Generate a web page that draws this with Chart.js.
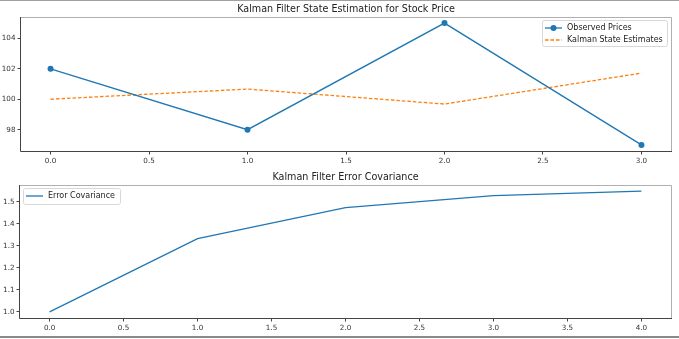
<!DOCTYPE html>
<html>
<head>
<meta charset="utf-8">
<script src="https://cdn.jsdelivr.net/npm/chart.js@4.4.0/dist/chart.umd.min.js"></script>
<style>
  html, body { margin: 0; padding: 0; background: #fff; }
  #wrap { position: relative; width: 679px; height: 339px; background: #fff; overflow: hidden; }
  #frameTop { position: absolute; left: 0; top: 0; width: 679px; height: 1px; background: #a0a0a0; }
  #frameBot { position: absolute; left: 0; top: 336px; width: 679px; height: 2px; background: #8a8a8a; }
  canvas { position: absolute; left: 0; }
  #c1 { top: 0; }
  #c2 { top: 168px; }
</style>
</head>
<body>
<div id="wrap">
  <canvas id="c1" width="679" height="168"></canvas>
  <canvas id="c2" width="679" height="170"></canvas>
  <div id="frameTop"></div>
  <div id="frameBot"></div>
</div>
<script>
// ---- data ----
const timeSteps = [0, 1, 2, 3];
const observedPrices = [102, 98, 105, 97];
const kalmanEstimates = [100, 100.667, 99.684, 101.715];
const covSteps = [0, 1, 2, 3, 4];
const errorCovariance = [1.0, 1.3333, 1.4737, 1.5285, 1.5492];

const topXTicks = [0, 0.5, 1.0, 1.5, 2.0, 2.5, 3.0];
const topYTicks = [98, 100, 102, 104];
const botXTicks = [0, 0.5, 1.0, 1.5, 2.0, 2.5, 3.0, 3.5, 4.0];
const botYTicks = [1.0, 1.1, 1.2, 1.3, 1.4, 1.5];

const title1 = 'Kalman Filter State Estimation for Stock Price';
const title2 = 'Kalman Filter Error Covariance';

const BLUE = '#1f77b4';
const ORANGE = '#ff7f0e';
const FONT = "'DejaVu Sans', sans-serif";

function pts(xs, ys) { return xs.map((x, i) => ({ x: x, y: ys[i] })); }

function decorPlugin(title, legendCfg) {
  return {
    id: 'decor',
    afterDraw(chart) {
      const ctx = chart.ctx;
      const a = chart.chartArea;
      ctx.save();
      // spines
      ctx.lineWidth = 1;
      ctx.strokeStyle = '#b0b0b0';
      ctx.beginPath();
      ctx.moveTo(a.left, a.top + 0.5); ctx.lineTo(a.right + 0.5, a.top + 0.5);
      ctx.lineTo(a.right + 0.5, a.bottom);
      ctx.stroke();
      ctx.strokeStyle = '#444';
      ctx.beginPath();
      ctx.moveTo(a.left - 0.5, a.top); ctx.lineTo(a.left - 0.5, a.bottom + 0.5);
      ctx.lineTo(a.right + 1, a.bottom + 0.5);
      ctx.stroke();
      // title
      ctx.fillStyle = '#222';
      ctx.font = "9.6px " + FONT;
      ctx.textAlign = 'center';
      ctx.textBaseline = 'middle';
      ctx.fillText(title, (a.left + a.right) / 2, a.top - 8);
      // legend
      const L = legendCfg;
      const bx = L.side === 'right' ? a.right - 4 - L.w : a.left + 3;
      const by = a.top + 3;
      ctx.fillStyle = 'rgba(255,255,255,0.8)';
      ctx.strokeStyle = '#d8d8d8';
      ctx.lineWidth = 1;
      ctx.beginPath();
      if (ctx.roundRect) ctx.roundRect(bx + 0.5, by + 0.5, L.w, L.h, 2); else ctx.rect(bx + 0.5, by + 0.5, L.w, L.h);
      ctx.fill(); ctx.stroke();
      ctx.font = "8px " + FONT;
      ctx.textAlign = 'left';
      chart.data.datasets.forEach((ds, i) => {
        const cy = by + L.first + i * L.gap;
        ctx.strokeStyle = ds.borderColor;
        ctx.lineWidth = ds.borderWidth;
        ctx.setLineDash(ds.borderDash || []);
        ctx.beginPath();
        ctx.moveTo(bx + 3, cy); ctx.lineTo(bx + 20, cy);
        ctx.stroke();
        ctx.setLineDash([]);
        if (ds.pointRadius > 0) {
          ctx.fillStyle = ds.borderColor;
          ctx.beginPath(); ctx.arc(bx + 11.5, cy, ds.pointRadius, 0, Math.PI * 2); ctx.fill();
        }
        ctx.fillStyle = '#222';
        ctx.fillText(ds.label, bx + 25, cy);
      });
      ctx.restore();
    }
  };
}

function axis(min, max, ticks, fmt, pos, size) {
  return {
    type: 'linear', position: pos, min: min, max: max,
    afterBuildTicks: (s) => { s.ticks = ticks.map(v => ({ value: v })); },
    afterFit: (s) => { if (pos === 'left') s.width = size; else s.height = size; },
    border: { display: false },
    grid: { display: true, drawOnChartArea: false, drawTicks: true, tickLength: 3.5, color: '#444', lineWidth: 1 },
    ticks: {
      autoSkip: false, maxRotation: 0, padding: 2,
      color: '#333', font: { family: FONT, size: 7.2 },
      callback: fmt
    }
  };
}

const common = {
  responsive: false, animation: false, devicePixelRatio: 1,
  plugins: { legend: { display: false }, title: { display: false }, tooltip: { enabled: false } },
  events: []
};

new Chart(document.getElementById('c1'), {
  type: 'line',
  data: {
    datasets: [
      { label: 'Observed Prices', data: pts(timeSteps, observedPrices), borderColor: BLUE, backgroundColor: BLUE,
        borderWidth: 1.3, pointRadius: 3, pointBorderWidth: 0, pointBackgroundColor: BLUE, tension: 0, fill: false },
      { label: 'Kalman State Estimates', data: pts(timeSteps, kalmanEstimates), borderColor: ORANGE, backgroundColor: ORANGE,
        borderWidth: 1.3, borderDash: [3.5, 2], pointRadius: 0, tension: 0, fill: false }
    ]
  },
  options: Object.assign({}, common, {
    layout: { padding: { left: 0, right: 8, top: 17, bottom: 0 } },
    scales: {
      x: axis(-0.15, 3.15, topXTicks, v => Number(v).toFixed(1), 'bottom', 17),
      y: axis(96.6, 105.4, topYTicks, v => String(v), 'left', 21)
    }
  }),
  plugins: [decorPlugin(title1, { side: 'right', w: 125, h: 26, first: 8, gap: 12 })]
});

new Chart(document.getElementById('c2'), {
  type: 'line',
  data: {
    datasets: [
      { label: 'Error Covariance', data: pts(covSteps, errorCovariance), borderColor: BLUE, backgroundColor: BLUE,
        borderWidth: 1.3, pointRadius: 0, tension: 0, fill: false }
    ]
  },
  options: Object.assign({}, common, {
    layout: { padding: { left: 0, right: 8, top: 17, bottom: 0 } },
    scales: {
      x: axis(-0.2, 4.2, botXTicks, v => Number(v).toFixed(1), 'bottom', 20),
      y: axis(0.9725, 1.5767, botYTicks, v => Number(v).toFixed(1), 'left', 20)
    }
  }),
  plugins: [decorPlugin(title2, { side: 'left', w: 97, h: 16, first: 8, gap: 12 })]
});
</script>
</body>
</html>
